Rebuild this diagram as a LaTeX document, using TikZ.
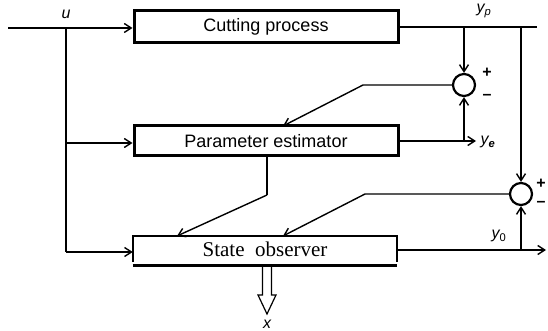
\documentclass[tikz,border=0pt]{standalone}
\usepackage{fontspec}
\setmainfont{Liberation Sans}
\newfontfamily\timesfont{Liberation Serif}
\usetikzlibrary{arrows.meta,calc}
\begin{document}
\begin{tikzpicture}[x=1pt,y=-1pt,
  conn/.style={line width=1.4pt},
  arr/.style={conn,-{Straight Barb[length=7pt,width=9pt,line width=1.4pt]}},
  blockbox/.style={draw,line width=3pt,minimum width=264pt,inner sep=0pt,font=\fontsize{18}{20}\selectfont},
  sumnode/.style={draw,circle,line width=2.2pt,minimum size=22pt,inner sep=0pt},
  lab/.style={font=\fontsize{16}{18}\selectfont\itshape},
  sgn/.style={font=\fontsize{16}{18}\selectfont\bfseries}]
\useasboundingbox (0,0) rectangle (548,331);
% blocks
\node[blockbox,minimum height=32pt] (cp) at (266,27) {Cutting process};
\node[blockbox,minimum height=30pt] (pe) at (266,141) {Parameter estimator};
\node[minimum width=264pt,minimum height=26pt,inner sep=0pt,font=\timesfont\fontsize{21}{23}\selectfont] (so) at (265,249) {State\ \ observer};
\draw[line width=2pt] (so.south west) -- (so.north west) -- (so.north east) -- (so.south east);
\draw[line width=3.5pt] ($(so.south west)+(0,3.5)$) coordinate (sobl) -- ($(so.south east)+(0,3.5)$) coordinate (sobr);
% summing junctions
\node[sumnode] (s1) at (464,85) {};
\node[sumnode] (s2) at (521,194) {};
\node[sgn] (p1) at (487,73) {+};
\node[sgn] (m1) at (487,97) {--};
\node[sgn] (p2) at (541,184) {+};
\node[sgn] (m2) at (541,204) {--};
% coordinates
\coordinate (in) at (8,28);
\coordinate (ub) at (66,28);
\coordinate (ub2) at (66,143);
\coordinate (ub3) at (66,252);
\coordinate (ypend) at (537,27);
\coordinate (yb1) at (464,27);
\coordinate (yb2) at (521,27);
\coordinate (k1) at (363,85);
\coordinate (t1) at (283,126);
\coordinate (yeend) at (476,141);
\coordinate (yeb) at (464,141);
\coordinate (k2) at (365,194);
\coordinate (t2) at (283,236);
\coordinate (y0end) at (546,250);
\coordinate (y0b) at (521,250);
\coordinate (pb) at (267,156);
\coordinate (pk) at (267,195);
\coordinate (t3) at (177,236);
% input u
\draw[arr] (in) -- (cp.west |- in);
\node[lab] (u) at (66,14) {u};
\draw[conn] (ub) -- (ub3);
\draw[arr] (ub2) -- (pe.west |- ub2);
\draw[arr] (ub3) -- (so.west |- ub3);
% plant output
\draw[conn] (cp.east) -- (ypend);
\node[lab] (yp) at (484,11) {y\textsubscript{\itshape p}};
\draw[arr] (yb1) -- (s1.north);
\draw[arr] (yb2) -- (s2.north);
% estimator loop
\draw[arr] (s1.west) -- (k1) -- (t1);
\draw[arr] (pe.east |- yeend) -- (yeend);
\node[lab,anchor=west] (ye) at (477,142) {y\textsubscript{\bfseries e}};
\draw[arr] (yeb) -- (s1.south);
% observer loop
\draw[conn] (pb) -- (pk);
\draw[arr] (pk) -- (t3);
\draw[arr] (s2.west) -- (k2) -- (t2);
\draw[arr] (so.east |- y0end) -- (y0end);
\draw[arr] (y0b) -- (s2.south);
\node[lab] (y0) at (499,236) {y\textsubscript{\upshape 0}};
% state output x (hollow arrow)
\coordinate (xa) at (267,267);
\draw[line width=1.2pt,fill=white] ($(xa)+(-4.5,0)$) -- ($(xa)+(-4.5,28)$) -- ($(xa)+(-9,28)$) -- ($(xa)+(0,47)$) -- ($(xa)+(9,28)$) -- ($(xa)+(4.5,28)$) -- ($(xa)+(4.5,0)$);
\node[lab] (x) at (267,324) {x};
\end{tikzpicture}
\end{document}
